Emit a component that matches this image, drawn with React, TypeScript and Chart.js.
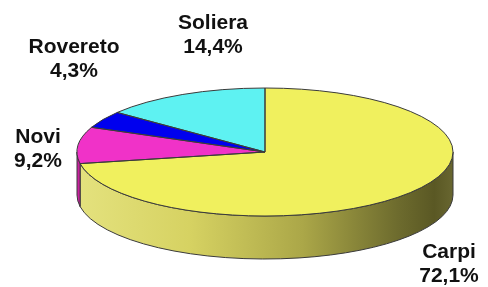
import React, { useEffect, useRef } from "react";
import { Chart, registerables } from "chart.js";

Chart.register(...registerables);

// ---- data ----
const categories = ["Carpi", "Novi", "Rovereto", "Soliera"];
const shares = [72.1, 9.2, 4.3, 14.4];
const shareLabels = ["72,1%", "9,2%", "4,3%", "14,4%"];

// ---- styles ----
const topColors = ["#F0F05E", "#F032C8", "#0000EE", "#5EF2F2"];
const sideColors = ["#C8C458", "#C8209E", "#0000A8", "#40C0C0"];

// layout of the tilted pie (ellipse) and label anchors
const CX = 265;
const CY = 152;
const RX = 188;
const RY = 64;
const DEPTH = 43;
const labelAnchors: [number, number][] = [
  [449, 258],
  [38, 143],
  [74, 53],
  [213, 29],
];
const LINE_GAP = 24;

const pie3d = {
  id: "pie3d",
  beforeDatasetsDraw(chart: any) {
    const ctx: CanvasRenderingContext2D = chart.ctx;
    const meta = chart.getDatasetMeta(0);
    // side walls (front half: canvas angles 0..PI)
    meta.data.forEach((arc: any, i: number) => {
      const s = arc.startAngle;
      const e = arc.endAngle;
      for (let k = -2; k <= 2; k++) {
        const shift = k * 2 * Math.PI;
        const a1 = Math.max(s + shift, 0);
        const a2 = Math.min(e + shift, Math.PI);
        if (a2 <= a1) continue;
        ctx.save();
        ctx.beginPath();
        ctx.moveTo(CX + RX * Math.cos(a1), CY + RY * Math.sin(a1));
        ctx.ellipse(CX, CY, RX, RY, 0, a1, a2, false);
        ctx.lineTo(CX + RX * Math.cos(a2), CY + DEPTH + RY * Math.sin(a2));
        ctx.ellipse(CX, CY + DEPTH, RX, RY, 0, a2, a1, true);
        ctx.closePath();
        if (i === 0) {
          const g = ctx.createLinearGradient(CX - RX, 0, CX + RX, 0);
          g.addColorStop(0, "#E4E27E");
          g.addColorStop(0.3, "#D6D262");
          g.addColorStop(0.6, "#ABA748");
          g.addColorStop(0.85, "#6E6C2E");
          g.addColorStop(0.95, "#5A5824");
          g.addColorStop(1, "#686630");
          ctx.fillStyle = g;
        } else {
          ctx.fillStyle = sideColors[i];
        }
        ctx.fill();
        ctx.strokeStyle = "#3A3A3A";
        ctx.lineWidth = 1;
        ctx.stroke();
        ctx.restore();
      }
    });
    // squash the library's circular pie into an ellipse
    const a0 = meta.data[0];
    const R = a0.outerRadius;
    ctx.save();
    ctx.translate(CX, CY);
    ctx.scale(RX / R, RY / R);
    ctx.translate(-a0.x, -a0.y);
  },
  afterDatasetsDraw(chart: any) {
    const ctx: CanvasRenderingContext2D = chart.ctx;
    ctx.restore();
    const meta = chart.getDatasetMeta(0);
    // slice outlines on the top face
    ctx.save();
    ctx.strokeStyle = "#3A3A3A";
    ctx.lineWidth = 1;
    meta.data.forEach((arc: any) => {
      ctx.beginPath();
      ctx.moveTo(CX, CY);
      ctx.ellipse(CX, CY, RX, RY, 0, arc.startAngle, arc.endAngle, false);
      ctx.closePath();
      ctx.stroke();
    });
    ctx.restore();
    // labels
    ctx.save();
    ctx.fillStyle = "#111111";
    ctx.font = "bold 21px 'Liberation Sans', Arial, sans-serif";
    ctx.textAlign = "center";
    ctx.textBaseline = "alphabetic";
    categories.forEach((c, i) => {
      const [x, y] = labelAnchors[i];
      ctx.fillText(c, x, y);
      ctx.fillText(shareLabels[i], x, y + LINE_GAP);
    });
    ctx.restore();
  },
};

export default function App() {
  const ref = useRef<HTMLCanvasElement | null>(null);
  useEffect(() => {
    if (!ref.current) return;
    const chart = new Chart(ref.current, {
      type: "pie",
      data: {
        labels: categories,
        datasets: [
          {
            data: shares,
            backgroundColor: topColors,
            borderWidth: 0,
            clip: false as any,
          },
        ],
      },
      options: {
        responsive: false,
        maintainAspectRatio: false,
        animation: false,
        devicePixelRatio: 1,
        events: [],
        rotation: 0,
        plugins: {
          legend: { display: false },
          tooltip: { enabled: false },
        },
      },
      plugins: [pie3d],
    });
    return () => chart.destroy();
  }, []);
  return (
    <div style={{ position: "absolute", left: 0, top: 0, width: 488, height: 287, background: "#fff" }}>
      <canvas ref={ref} width={488} height={287} style={{ display: "block" }} />
    </div>
  );
}
